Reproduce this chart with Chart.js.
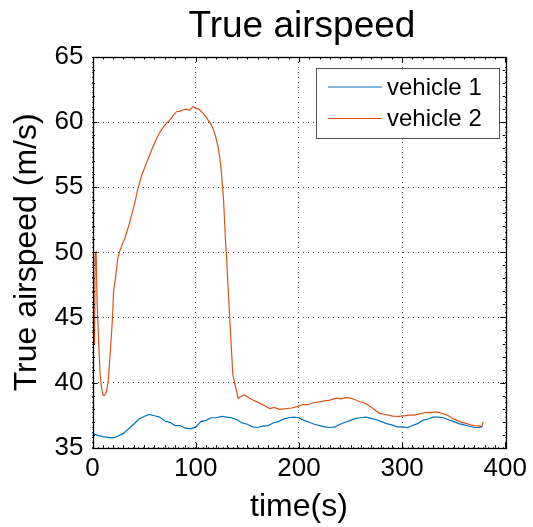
<!DOCTYPE html>
<html>
<head>
<meta charset="utf-8">
<script src="https://cdn.jsdelivr.net/npm/chart.js@4/dist/chart.umd.min.js"></script>
<style>
html,body{margin:0;padding:0;background:#fff;}
#wrap{width:533px;height:527px;position:relative;}
</style>
</head>
<body>
<div id="wrap"><canvas id="c" width="533" height="527"></canvas></div>
<script>
// ---- data ----
const chartTitle = "True airspeed";
const seriesNames = ["vehicle 1", "vehicle 2"];
const xTicks = [0, 100, 200, 300, 400];
const yTicks = [35, 40, 45, 50, 55, 60, 65];

const v1Time = [0,5,10,15,20,25,30,35,40,45,50,55,60,65,70,75,80,85,90,95,100,105,110,115,120,125,130,135,140,145,150,155,160,165,170,175,180,185,190,195,200,205,210,215,220,225,230,235,240,245,250,255,260,265,270,275,280,285,290,295,300,305,310,315,320,325,330,335,340,345,350,355,360,365,370,375,378];
const v1Speed = [36.1,35.95,35.85,35.8,35.75,35.9,36.1,36.45,36.8,37.2,37.4,37.55,37.45,37.35,37.05,36.95,36.7,36.7,36.5,36.45,36.6,37.0,37.1,37.3,37.3,37.4,37.35,37.3,37.15,36.9,36.8,36.6,36.55,36.65,36.7,36.9,37.0,37.2,37.3,37.35,37.3,37.1,36.95,36.8,36.7,36.6,36.55,36.6,36.8,36.95,37.1,37.25,37.3,37.35,37.25,37.15,37.0,36.85,36.75,36.6,36.6,36.55,36.7,36.85,37.1,37.2,37.35,37.35,37.3,37.15,37.0,36.85,36.75,36.65,36.55,36.55,36.65];

const v2Time = [0,1,2,2.6,3.5,4.5,6.3,7.3,8.6,10,11,12,13.6,15.2,16.5,17.8,19.4,20.4,22.4,24.4,26,29.3,31.4,35,38,41,44,47.6,51,54,58,62,65,68.5,72,75,78,81.4,85,88,91,94,97.5,100,103,105.6,108,110,112,114.5,116.8,119,121.7,123.5,125,127,128.8,130,131,133.6,136,138,139.4,141,144,147.5,151,155.5,160,165,171.7,176,181,187.8,193,198,203.9,209,214,220,225,230,236,241,245.7,250,254,258.7,261.7,266.7,271,278,284,291,297,302,307,312,317,323,328,332,336,340,345,349,353,358,362,366,370,374.8,377,378.6];
const v2Speed = [43.9,43.8,42.9,49.9,50.0,46.1,42.5,40.7,39.7,39.1,39.0,39.05,39.3,40.1,41.5,43.0,45.0,47.0,48.1,49.5,50.0,50.7,51.1,52.0,52.9,53.8,54.9,55.9,56.6,57.2,58.0,58.7,59.2,59.6,59.95,60.15,60.5,60.8,60.85,60.95,61.0,60.9,61.2,61.05,61.0,60.8,60.6,60.4,60.15,59.9,59.5,59.0,58.1,57.2,56.06,54.0,51.0,49.5,47.9,44.0,40.6,39.9,39.4,38.8,38.95,39.05,38.85,38.66,38.5,38.3,38.0,38.1,37.95,38.0,38.05,38.15,38.3,38.3,38.45,38.53,38.6,38.65,38.8,38.75,38.85,38.8,38.7,38.53,38.5,38.3,38.05,37.64,37.55,37.43,37.4,37.45,37.5,37.5,37.6,37.7,37.7,37.75,37.7,37.6,37.45,37.25,37.1,36.95,36.87,36.75,36.7,36.67,36.6,37.0];

const colors = ["#0072BD", "#D95319"];

function toPoints(xs, ys){ return xs.map((x,i)=>({x:x, y:ys[i]})); }

const FONT = "'Liberation Sans', Arial, Helvetica, sans-serif";

// frame, inward ticks, title over plot area and legend (MATLAB style)
const framePlugin = {
  id: 'frame',
  afterDatasetsDraw(chart){
    const ctx = chart.ctx, a = chart.chartArea;
    const xs = chart.scales.x, ys = chart.scales.y;
    ctx.save();
    ctx.strokeStyle = '#000';
    ctx.lineWidth = 1;
    ctx.beginPath();
    for (let v = xs.min; v <= xs.max + 1e-9; v += 10){
      const px = Math.round(xs.getPixelForValue(v)) + 0.5;
      ctx.moveTo(px, a.bottom); ctx.lineTo(px, a.bottom - 2.5);
      ctx.moveTo(px, a.top); ctx.lineTo(px, a.top + 2.5);
    }
    for (let v = ys.min; v <= ys.max + 1e-9; v += 1){
      const py = Math.round(ys.getPixelForValue(v)) + 0.5;
      ctx.moveTo(a.left, py); ctx.lineTo(a.left + 2.5, py);
      ctx.moveTo(a.right, py); ctx.lineTo(a.right - 2.5, py);
    }
    xs.ticks.forEach(t => {
      const px = Math.round(xs.getPixelForValue(t.value)) + 0.5;
      ctx.moveTo(px, a.bottom); ctx.lineTo(px, a.bottom - 5);
      ctx.moveTo(px, a.top); ctx.lineTo(px, a.top + 5);
    });
    ys.ticks.forEach(t => {
      const py = Math.round(ys.getPixelForValue(t.value)) + 0.5;
      ctx.moveTo(a.left, py); ctx.lineTo(a.left + 5, py);
      ctx.moveTo(a.right, py); ctx.lineTo(a.right - 5, py);
    });
    ctx.stroke();
    ctx.lineWidth = 1.3;
    ctx.strokeRect(Math.round(a.left)+0.5, Math.round(a.top)+0.5, Math.round(a.right-a.left), Math.round(a.bottom-a.top));

    // title centred over the plot area
    ctx.fillStyle = '#000';
    ctx.font = "37px " + FONT;
    ctx.textAlign = 'center';
    ctx.textBaseline = 'alphabetic';
    ctx.fillText(chartTitle, (a.left + a.right) / 2 + 3, 37);

    // legend box
    const lx = 316, ly = 68, lw = 183, lh = 70;
    ctx.fillStyle = '#fff';
    ctx.fillRect(lx, ly, lw, lh);
    ctx.lineWidth = 1;
    ctx.strokeStyle = '#555';
    ctx.strokeRect(lx + 0.5, ly + 0.5, lw, lh);
    ctx.font = "24px " + FONT;
    ctx.textBaseline = 'middle';
    ctx.textAlign = 'left';
    chart.data.datasets.forEach((ds, i) => {
      const yy = ly + 19 + i * 31.5;
      ctx.strokeStyle = ds.borderColor;
      ctx.lineWidth = 1.2;
      ctx.beginPath();
      ctx.moveTo(328, yy); ctx.lineTo(382, yy);
      ctx.stroke();
      ctx.fillStyle = '#000';
      ctx.fillText(ds.label, 387, yy + 1);
    });
    ctx.restore();
  }
};

new Chart(document.getElementById('c'), {
  type: 'line',
  data: {
    datasets: [
      { label: seriesNames[0], data: toPoints(v1Time, v1Speed), borderColor: colors[0], backgroundColor: colors[0], borderWidth: 1.2, pointRadius: 0, tension: 0, fill: false },
      { label: seriesNames[1], data: toPoints(v2Time, v2Speed), borderColor: colors[1], backgroundColor: colors[1], borderWidth: 1.2, pointRadius: 0, tension: 0, fill: false }
    ]
  },
  options: {
    responsive: false,
    animation: false,
    devicePixelRatio: 1,
    layout: { padding: { top: 57, right: 27, bottom: 0, left: 0 } },
    plugins: {
      legend: { display: false },
      tooltip: { enabled: false },
      title: { display: false }
    },
    scales: {
      x: {
        type: 'linear',
        min: 0, max: 400,
        afterBuildTicks(s){ s.ticks = xTicks.map(v => ({value: v})); },
        afterFit(s){ s.height = 79.3; },
        grid: { color: 'rgba(0,0,0,0.75)', lineWidth: 1, drawTicks: false },
        border: { display: false, dash: [1, 4] },
        ticks: { color: '#000', padding: 6, font: { family: FONT, size: 26 }, maxRotation: 0 },
        title: { display: true, text: 'time(s)', color: '#000', font: { family: FONT, size: 32 }, padding: { top: 0, bottom: 1 } }
      },
      y: {
        type: 'linear',
        min: 35, max: 65,
        afterBuildTicks(s){ s.ticks = yTicks.map(v => ({value: v})); },
        afterFit(s){ s.width = 92.5; },
        grid: { color: 'rgba(0,0,0,0.75)', lineWidth: 1, drawTicks: false },
        border: { display: false, dash: [1, 4] },
        ticks: { color: '#000', padding: 9, font: { family: FONT, size: 26 } },
        title: { display: true, text: 'True airspeed (m/s)', color: '#000', font: { family: FONT, size: 32 }, padding: { top: 8, bottom: 0 } }
      }
    }
  },
  plugins: [framePlugin]
});
</script>
</body>
</html>
